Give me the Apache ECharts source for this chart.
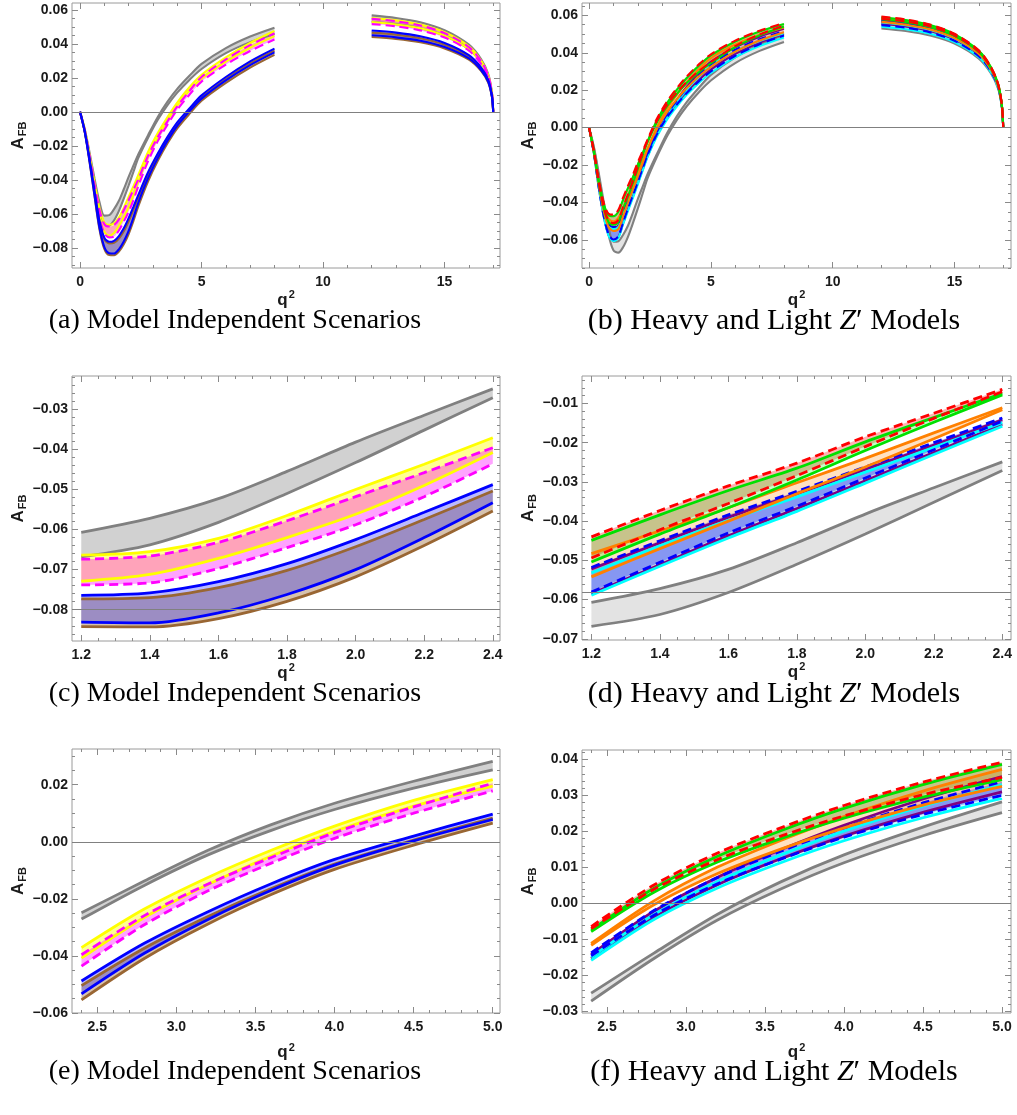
<!DOCTYPE html>
<html>
<head>
<meta charset="utf-8">
<script src="https://cdn.jsdelivr.net/npm/echarts@6/dist/echarts.min.js"></script>
<style>
html, body { margin: 0; padding: 0; background: #fff; }
#main { width: 1017px; height: 1115px; }
</style>
</head>
<body>
<div id="main"></div>
<script>
// q^2 sample points: low window (0..8) and high window (12..17)
var q2Low  = [0, 0.2, 0.4, 0.6, 0.8, 1.0, 1.2, 1.4, 1.6, 1.8, 2.0, 2.2, 2.4, 2.8, 3.2, 3.6, 4.0, 4.5, 5.0, 6, 7, 8];
var q2High = [12, 13, 14, 15, 16, 16.5, 16.8, 16.95, 17];

// SM band (gray), shared by both model sets
var smUpLow  = [0, -0.0105, -0.0245, -0.0395, -0.0530, -0.0610, -0.0607, -0.0572, -0.0523, -0.0455, -0.0382, -0.0315, -0.0249, -0.0137, -0.0030, 0.0060, 0.0135, 0.0212, 0.0282, 0.0375, 0.0443, 0.0495];
var smLoLow  = [0, -0.0110, -0.0262, -0.0425, -0.0572, -0.0655, -0.0668, -0.0638, -0.0582, -0.0510, -0.0433, -0.0352, -0.0271, -0.0152, -0.0046, 0.0040, 0.0113, 0.0188, 0.0252, 0.0345, 0.0410, 0.0458];
var smUpHigh = [0.0567, 0.0552, 0.0527, 0.0480, 0.0395, 0.0310, 0.0220, 0.0110, 0];
var smLoHigh = [0.0530, 0.0516, 0.0492, 0.0449, 0.0369, 0.0290, 0.0206, 0.0103, 0];

// model independent scenarios
var yelUpLow = [0, -0.0110, -0.0260, -0.0420, -0.0565, -0.0650, -0.0664, -0.0655, -0.0622, -0.0565, -0.0500, -0.0437, -0.0371, -0.0235, -0.0125, -0.0030, 0.0055, 0.0145, 0.0218, 0.0320, 0.0405, 0.0475];
var yelLoLow = [0, -0.0115, -0.0275, -0.0450, -0.0610, -0.0705, -0.0729, -0.0712, -0.0672, -0.0620, -0.0562, -0.0490, -0.0408, -0.0265, -0.0150, -0.0050, 0.0037, 0.0125, 0.0195, 0.0295, 0.0377, 0.0445];
var magUpLow = [0, -0.0112, -0.0265, -0.0428, -0.0575, -0.0660, -0.0674, -0.0666, -0.0632, -0.0578, -0.0518, -0.0458, -0.0396, -0.0258, -0.0148, -0.0055, 0.0032, 0.0122, 0.0205, 0.0308, 0.0392, 0.0462];
var magLoLow = [0, -0.0117, -0.0280, -0.0458, -0.0620, -0.0715, -0.0738, -0.0733, -0.0697, -0.0645, -0.0588, -0.0518, -0.0436, -0.0290, -0.0172, -0.0075, 0.0012, 0.0100, 0.0178, 0.0278, 0.0358, 0.0425];
var bluUpLow = [0, -0.0118, -0.0285, -0.0468, -0.0640, -0.0740, -0.0764, -0.0758, -0.0730, -0.0685, -0.0625, -0.0557, -0.0488, -0.0355, -0.0245, -0.0147, -0.0062, 0.0020, 0.0097, 0.0205, 0.0297, 0.0372];
var bluLoLow = [0, -0.0122, -0.0298, -0.0492, -0.0680, -0.0795, -0.0831, -0.0833, -0.0808, -0.0762, -0.0700, -0.0620, -0.0533, -0.0390, -0.0272, -0.0170, -0.0082, 0.0003, 0.0078, 0.0185, 0.0275, 0.0350];
var brnUpLow = [0, -0.0119, -0.0288, -0.0473, -0.0648, -0.0750, -0.0773, -0.0770, -0.0745, -0.0702, -0.0643, -0.0575, -0.0504, -0.0372, -0.0262, -0.0164, -0.0078, 0.0006, 0.0083, 0.0192, 0.0285, 0.0360];
var brnLoLow = [0, -0.0123, -0.0302, -0.0498, -0.0690, -0.0806, -0.0842, -0.0843, -0.0822, -0.0779, -0.0718, -0.0640, -0.0554, -0.0408, -0.0288, -0.0185, -0.0097, -0.0012, 0.0065, 0.0170, 0.0260, 0.0335];
var yelUpHigh = [0.0552, 0.0538, 0.0513, 0.0468, 0.0385, 0.0302, 0.0214, 0.0107, 0];
var yelLoHigh = [0.0528, 0.0514, 0.0491, 0.0447, 0.0368, 0.0289, 0.0205, 0.0102, 0];
var magUpHigh = [0.0547, 0.0533, 0.0508, 0.0463, 0.0381, 0.0299, 0.0212, 0.0106, 0];
var magLoHigh = [0.0516, 0.0503, 0.0479, 0.0437, 0.0360, 0.0282, 0.0200, 0.0100, 0];
var bluUpHigh = [0.0478, 0.0466, 0.0444, 0.0405, 0.0333, 0.0261, 0.0185, 0.0093, 0];
var bluLoHigh = [0.0450, 0.0438, 0.0418, 0.0381, 0.0314, 0.0246, 0.0175, 0.0087, 0];
var brnUpHigh = [0.0466, 0.0454, 0.0433, 0.0395, 0.0325, 0.0255, 0.0181, 0.0090, 0];
var brnLoHigh = [0.0440, 0.0429, 0.0409, 0.0373, 0.0307, 0.0241, 0.0171, 0.0085, 0];

// heavy and light Z' models
var redUpLow = [0, -0.0125, -0.0280, -0.0400, -0.0460, -0.0465, -0.0440, -0.0373, -0.0310, -0.0252, -0.0185, -0.0125, -0.0064, 0.0052, 0.0140, 0.0210, 0.0272, 0.0337, 0.0392, 0.0465, 0.0518, 0.0558];
var redLoLow = [0, -0.0130, -0.0295, -0.0425, -0.0497, -0.0510, -0.0494, -0.0422, -0.0355, -0.0284, -0.0210, -0.0138, -0.0070, 0.0040, 0.0122, 0.0187, 0.0243, 0.0302, 0.0350, 0.0436, 0.0498, 0.0545];
var grnUpLow = [0, -0.0126, -0.0283, -0.0405, -0.0467, -0.0473, -0.0449, -0.0384, -0.0322, -0.0265, -0.0198, -0.0136, -0.0074, 0.0043, 0.0131, 0.0202, 0.0264, 0.0330, 0.0386, 0.0460, 0.0514, 0.0554];
var grnLoLow = [0, -0.0131, -0.0298, -0.0430, -0.0505, -0.0519, -0.0504, -0.0433, -0.0366, -0.0295, -0.0220, -0.0148, -0.0078, 0.0032, 0.0115, 0.0180, 0.0237, 0.0295, 0.0344, 0.0430, 0.0493, 0.0540];
var orgUpLow = [0, -0.0128, -0.0290, -0.0418, -0.0487, -0.0500, -0.0483, -0.0425, -0.0366, -0.0302, -0.0240, -0.0175, -0.0111, 0.0008, 0.0101, 0.0175, 0.0241, 0.0312, 0.0372, 0.0444, 0.0496, 0.0535];
var orgLoLow = [0, -0.0133, -0.0305, -0.0445, -0.0530, -0.0552, -0.0542, -0.0470, -0.0400, -0.0330, -0.0262, -0.0190, -0.0116, -0.0003, 0.0083, 0.0151, 0.0210, 0.0273, 0.0325, 0.0406, 0.0466, 0.0510];
var bdUpLow  = [0, -0.0132, -0.0302, -0.0438, -0.0515, -0.0530, -0.0518, -0.0450, -0.0384, -0.0324, -0.0262, -0.0200, -0.0137, -0.0019, 0.0072, 0.0145, 0.0210, 0.0279, 0.0338, 0.0416, 0.0473, 0.0515];
var bdLoLow  = [0, -0.0138, -0.0320, -0.0470, -0.0570, -0.0598, -0.0581, -0.0505, -0.0430, -0.0362, -0.0290, -0.0218, -0.0145, -0.0032, 0.0055, 0.0123, 0.0184, 0.0247, 0.0300, 0.0384, 0.0446, 0.0492];
var cyaUpLow = [0, -0.0133, -0.0305, -0.0443, -0.0523, -0.0542, -0.0532, -0.0463, -0.0398, -0.0338, -0.0275, -0.0212, -0.0149, -0.0030, 0.0061, 0.0135, 0.0201, 0.0270, 0.0330, 0.0407, 0.0463, 0.0505];
var cyaLoLow = [0, -0.0139, -0.0323, -0.0475, -0.0577, -0.0606, -0.0589, -0.0515, -0.0443, -0.0375, -0.0303, -0.0230, -0.0158, -0.0044, 0.0043, 0.0113, 0.0174, 0.0238, 0.0292, 0.0376, 0.0436, 0.0482];
var purUpLow = [0, -0.0132, -0.0303, -0.0440, -0.0518, -0.0535, -0.0522, -0.0455, -0.0390, -0.0330, -0.0268, -0.0206, -0.0142, -0.0021, 0.0073, 0.0149, 0.0217, 0.0290, 0.0352, 0.0429, 0.0486, 0.0528];
var purLoLow = [0, -0.0138, -0.0321, -0.0472, -0.0573, -0.0602, -0.0585, -0.0511, -0.0437, -0.0368, -0.0297, -0.0225, -0.0153, -0.0037, 0.0052, 0.0124, 0.0187, 0.0253, 0.0310, 0.0394, 0.0454, 0.0500];
var redUpHigh = [0.0593, 0.0578, 0.0551, 0.0502, 0.0413, 0.0324, 0.0230, 0.0115, 0];
var redLoHigh = [0.0582, 0.0567, 0.0541, 0.0493, 0.0406, 0.0318, 0.0226, 0.0113, 0];
var grnUpHigh = [0.0590, 0.0575, 0.0548, 0.0500, 0.0411, 0.0323, 0.0229, 0.0114, 0];
var grnLoHigh = [0.0579, 0.0564, 0.0538, 0.0490, 0.0404, 0.0317, 0.0225, 0.0112, 0];
var orgUpHigh = [0.0586, 0.0571, 0.0544, 0.0496, 0.0408, 0.0321, 0.0227, 0.0114, 0];
var orgLoHigh = [0.0565, 0.0550, 0.0525, 0.0479, 0.0394, 0.0309, 0.0219, 0.0110, 0];
var bdUpHigh  = [0.0568, 0.0553, 0.0528, 0.0481, 0.0396, 0.0311, 0.0220, 0.0110, 0];
var bdLoHigh  = [0.0548, 0.0534, 0.0509, 0.0464, 0.0382, 0.0300, 0.0213, 0.0106, 0];
var cyaUpHigh = [0.0562, 0.0547, 0.0522, 0.0476, 0.0392, 0.0307, 0.0218, 0.0109, 0];
var cyaLoHigh = [0.0540, 0.0526, 0.0502, 0.0457, 0.0376, 0.0295, 0.0210, 0.0105, 0];
var purUpHigh = [0.0575, 0.0560, 0.0534, 0.0487, 0.0401, 0.0315, 0.0223, 0.0112, 0];
var purLoHigh = [0.0555, 0.0541, 0.0516, 0.0470, 0.0387, 0.0304, 0.0215, 0.0108, 0];

// tick labels
var ticksFullX = [0, 5, 10, 15];
var ticksAY = [-0.08, -0.06, -0.04, -0.02, 0, 0.02, 0.04, 0.06];
var ticksBY = [-0.06, -0.04, -0.02, 0, 0.02, 0.04, 0.06];
var ticksMidX = [1.2, 1.4, 1.6, 1.8, 2.0, 2.2, 2.4];
var ticksCY = [-0.08, -0.07, -0.06, -0.05, -0.04, -0.03];
var ticksDY = [-0.07, -0.06, -0.05, -0.04, -0.03, -0.02, -0.01];
var ticksHighX = [2.5, 3.0, 3.5, 4.0, 4.5, 5.0];
var ticksEY = [-0.06, -0.04, -0.02, 0, 0.02];
var ticksFY = [-0.03, -0.02, -0.01, 0, 0.01, 0.02, 0.03, 0.04];

var captionMI = 'Model Independent Scenarios';
var captionZ = 'Heavy and Light {i|Z}\u2032 Models';

var curves = {
  smUp: [smUpLow, smUpHigh], smLo: [smLoLow, smLoHigh],
  yelUp: [yelUpLow, yelUpHigh], yelLo: [yelLoLow, yelLoHigh],
  magUp: [magUpLow, magUpHigh], magLo: [magLoLow, magLoHigh],
  bluUp: [bluUpLow, bluUpHigh], bluLo: [bluLoLow, bluLoHigh],
  brnUp: [brnUpLow, brnUpHigh], brnLo: [brnLoLow, brnLoHigh],
  redUp: [redUpLow, redUpHigh], redLo: [redLoLow, redLoHigh],
  grnUp: [grnUpLow, grnUpHigh], grnLo: [grnLoLow, grnLoHigh],
  orgUp: [orgUpLow, orgUpHigh], orgLo: [orgLoLow, orgLoHigh],
  bdUp: [bdUpLow, bdUpHigh], bdLo: [bdLoLow, bdLoHigh],
  cyaUp: [cyaUpLow, cyaUpHigh], cyaLo: [cyaLoLow, cyaLoHigh],
  purUp: [purUpLow, purUpHigh], purLo: [purLoLow, purLoHigh]
};

var SMOOTH = 0.3;
var sets = {
  mi: {
    bands: [
      ['smLo', 'smUp', 'rgba(128,128,128,0.36)'],
      ['yelLo', 'yelUp', 'rgba(255,255,0,0.42)'],
      ['magLo', 'magUp', 'rgba(255,0,255,0.36)'],
      ['brnLo', 'brnUp', 'rgba(153,102,51,0.40)'],
      ['bluLo', 'bluUp', 'rgba(0,0,255,0.27)']
    ],
    lines: [
      ['smUp', '#808080', false], ['smLo', '#808080', false],
      ['yelUp', '#ffff00', false], ['yelLo', '#ffff00', false],
      ['magUp', '#ff00ff', true], ['magLo', '#ff00ff', true],
      ['brnUp', '#996633', false], ['brnLo', '#996633', false],
      ['bluUp', '#0000ff', false], ['bluLo', '#0000ff', false]
    ]
  },
  zp: {
    bands: [
      ['smLo', 'smUp', 'rgba(128,128,128,0.22)'],
      ['cyaLo', 'cyaUp', 'rgba(0,255,255,0.2)'],
      ['purLo', 'purUp', 'rgba(128,0,128,0.15)'],
      ['bdLo', 'bdUp', 'rgba(0,0,255,0.3)'],
      ['orgLo', 'orgUp', 'rgba(255,128,0,0.24)'],
      ['redLo', 'redUp', 'rgba(255,0,0,0.3)'],
      ['grnLo', 'grnUp', 'rgba(0,255,0,0.22)']
    ],
    lines: [
      ['smUp', '#808080', false], ['smLo', '#808080', false],
      ['purUp', '#800080', false], ['purLo', '#800080', false],
      ['cyaUp', '#00ffff', false], ['cyaLo', '#00ffff', false],
      ['bdUp', '#0000ff', true], ['bdLo', '#0000ff', true],
      ['orgUp', '#ff8000', false], ['orgLo', '#ff8000', false],
      ['grnUp', '#00e000', false], ['grnLo', '#00e000', false],
      ['redUp', '#ff0000', true], ['redLo', '#ff0000', true]
    ]
  }
};

// win: q2 range actually plotted in each panel; lw: curve line width
var panels = [
  {set: 'mi', rect: [72, 3, 428, 265], xr: [-0.33, 17.28], yr: [-0.0918, 0.064], win: [0, 17], xt: ticksFullX, yt: ticksAY, xm: 1, ym: 0.005, xd: 0, base: 0, xGap: 20, lw: 2.1, cap: [235, 321, '(a) ' + captionMI], fs: 28},
  {set: 'zp', rect: [582, 3, 429, 265], xr: [-0.29, 17.32], yr: [-0.075, 0.0666], win: [0, 17], xt: ticksFullX, yt: ticksBY, xm: 1, ym: 0.005, xd: 0, base: 0, xGap: 20, lw: 2.1, cap: [774, 321, '(b) ' + captionZ], fs: 30},
  {set: 'mi', rect: [72, 376, 428, 265], xr: [1.173, 2.421], yr: [-0.0878, -0.0217], win: [1.2, 2.4], xt: ticksMidX, yt: ticksCY, xm: 0.05, ym: 0.002, xd: 1, base: -0.08, xGap: 20, lw: 2.8, cap: [235, 694, '(c) ' + captionMI], fs: 28},
  {set: 'zp', rect: [582, 376, 429, 264], xr: [1.1725, 2.4254], yr: [-0.0703, -0.003], win: [1.2, 2.4], xt: ticksMidX, yt: ticksDY, xm: 0.05, ym: 0.002, xd: 1, base: -0.058, xGap: 20, lw: 2.8, cap: [774, 694, '(d) ' + captionZ], fs: 30},
  {set: 'mi', rect: [72, 749, 428, 264], xr: [2.34, 5.046], yr: [-0.06, 0.0325], win: [2.4, 5.0], xt: ticksHighX, yt: ticksEY, xm: 0.1, ym: 0.005, xd: 1, base: 0, xGap: 29, lw: 2.8, cap: [235, 1072, '(e) ' + captionMI], fs: 28},
  {set: 'zp', rect: [582, 750, 429, 263], xr: [2.342, 5.057], yr: [-0.0304, 0.0426], win: [2.4, 5.0], xt: ticksHighX, yt: ticksFY, xm: 0.1, ym: 0.002, xd: 1, base: 0, xGap: 29, lw: 2.8, cap: [774, 1072, '(f) ' + captionZ], fs: 30}
];

function fmt(v, d) {
  var s = Math.abs(v).toFixed(d);
  return (v < -1e-9 ? '\u2212' : '') + s;
}

function minorTicks(r, step, major) {
  var out = [];
  var k = Math.ceil(r[0] / step - 1e-6);
  for (; k * step <= r[1] + 1e-9; k++) {
    var v = +(k * step).toFixed(6);
    var isMajor = major.some(function (m) { return Math.abs(m - v) < 1e-7; });
    if (!isMajor) out.push(v);
  }
  return out;
}

var labelFont = {color: '#1a1a1a', fontFamily: 'Liberation Sans, Arial, sans-serif', fontWeight: 'bold', fontSize: 14};

function axis(gi, pos, r, vals, len, withLabels, dec, margin) {
  return {
    gridIndex: gi, type: 'value', position: pos, min: r[0], max: r[1],
    axisLine: {show: false, onZero: false}, splitLine: {show: false},
    axisTick: {show: true, inside: true, length: len, customValues: vals, lineStyle: {color: '#8a8a8a', width: 1}},
    axisLabel: Object.assign({show: withLabels, customValues: vals, margin: margin,
      formatter: function (v) { return fmt(v, dec); }}, labelFont)
  };
}

// data rows are [A_FB, q2] restricted to the plotted q2 window;
// encode maps them back so stacking runs on A_FB
function rows(xs, ys, win) {
  var out = [];
  xs.forEach(function (x, i) {
    if (x >= win[0] - 1e-9 && x <= win[1] + 1e-9) out.push([ys[i], x]);
  });
  return out;
}

var option = {animation: false, backgroundColor: '#fff', grid: [], xAxis: [], yAxis: [], series: [], graphic: []};

panels.forEach(function (p, gi) {
  option.grid.push({left: p.rect[0], top: p.rect[1], width: p.rect[2], height: p.rect[3],
    show: true, borderColor: '#9a9a9a', borderWidth: 1, backgroundColor: 'transparent'});

  var xi = option.xAxis.length, yi = option.yAxis.length;
  var xMain = axis(gi, 'bottom', p.xr, p.xt, 6, true, p.xd, 7);
  xMain.name = '{q|q}{s|2}';
  xMain.nameLocation = 'middle';
  xMain.nameGap = p.xGap;
  xMain.nameTextStyle = {color: '#1a1a1a', rich: {
    q: {fontSize: 17, fontWeight: 'bold', fontFamily: 'Liberation Sans', color: '#1a1a1a'},
    s: {fontSize: 11, fontWeight: 'bold', fontFamily: 'Liberation Sans', color: '#1a1a1a', padding: [0, 0, 9, 1]}
  }};
  option.xAxis.push(xMain);
  option.xAxis.push(axis(gi, 'bottom', p.xr, minorTicks(p.xr, p.xm, p.xt), 3, false, 0, 0));
  option.xAxis.push(axis(gi, 'top', p.xr, p.xt, 6, false, 0, 0));
  option.xAxis.push(axis(gi, 'top', p.xr, minorTicks(p.xr, p.xm, p.xt), 3, false, 0, 0));

  var yMain = axis(gi, 'left', p.yr, p.yt, 6, true, 2, 4);
  yMain.name = '{a|A}{s|FB}';
  yMain.nameLocation = 'middle';
  yMain.nameRotate = 90;
  yMain.nameGap = 44;
  yMain.nameTextStyle = {color: '#1a1a1a', rich: {
    a: {fontSize: 17, fontWeight: 'bold', fontFamily: 'Liberation Sans', color: '#1a1a1a'},
    s: {fontSize: 11, fontWeight: 'bold', fontFamily: 'Liberation Sans', color: '#1a1a1a', padding: [9, 0, 0, 1]}
  }};
  option.yAxis.push(yMain);
  option.yAxis.push(axis(gi, 'left', p.yr, minorTicks(p.yr, p.ym, p.yt), 3, false, 2, 0));
  option.yAxis.push(axis(gi, 'right', p.yr, p.yt, 6, false, 2, 0));
  option.yAxis.push(axis(gi, 'right', p.yr, minorTicks(p.yr, p.ym, p.yt), 3, false, 2, 0));

  var set = sets[p.set];
  var segs = [q2Low, q2High];

  // filled bands: invisible lower bound + stacked band width
  set.bands.forEach(function (b, bi) {
    segs.forEach(function (xs, s) {
      var lo = curves[b[0]][s], hi = curves[b[1]][s];
      var loRows = rows(xs, lo, p.win);
      if (loRows.length < 2) return;
      var stackId = 'p' + gi + 'b' + bi + 's' + s;
      var common = {type: 'line', xAxisIndex: xi, yAxisIndex: yi, encode: {x: 1, y: 0},
        stack: stackId, stackStrategy: 'all',
        smooth: SMOOTH, symbol: 'none', silent: true, z: 1, lineStyle: {opacity: 0, width: 0}};
      option.series.push(Object.assign({}, common, {data: loRows}));
      option.series.push(Object.assign({}, common, {
        data: rows(xs, hi.map(function (h, i) { return h - lo[i]; }), p.win),
        areaStyle: {color: b[2], opacity: 1}
      }));
    });
  });

  // boundary curves
  set.lines.forEach(function (l, li) {
    segs.forEach(function (xs, s) {
      var data = rows(xs, curves[l[0]][s], p.win);
      if (data.length < 2) return;
      var ser = {type: 'line', xAxisIndex: xi, yAxisIndex: yi, encode: {x: 1, y: 0}, data: data,
        smooth: SMOOTH, symbol: 'none', silent: true, z: 3,
        lineStyle: {color: l[1], width: p.lw, type: l[2] ? [9, 5] : 'solid', cap: 'butt'}};
      if (li === 0 && s === 0) {
        ser.markLine = {silent: true, precision: 4, symbol: ['none', 'none'], label: {show: false},
          lineStyle: {color: '#808080', width: 1, type: 'solid'}, data: [{yAxis: p.base}]};
      }
      option.series.push(ser);
    });
  });

  option.graphic.push({
    type: 'text', x: p.cap[0], y: p.cap[1],
    style: {text: p.cap[2], fill: '#000', fontFamily: 'Liberation Serif, serif', fontSize: p.fs,
      align: 'center', verticalAlign: 'middle',
      rich: {i: {fontStyle: 'italic', fontFamily: 'Liberation Serif, serif', fontSize: p.fs, fill: '#000'}}}
  });
});

var chart = echarts.init(document.getElementById('main'));
chart.setOption(option);
</script>
</body>
</html>
